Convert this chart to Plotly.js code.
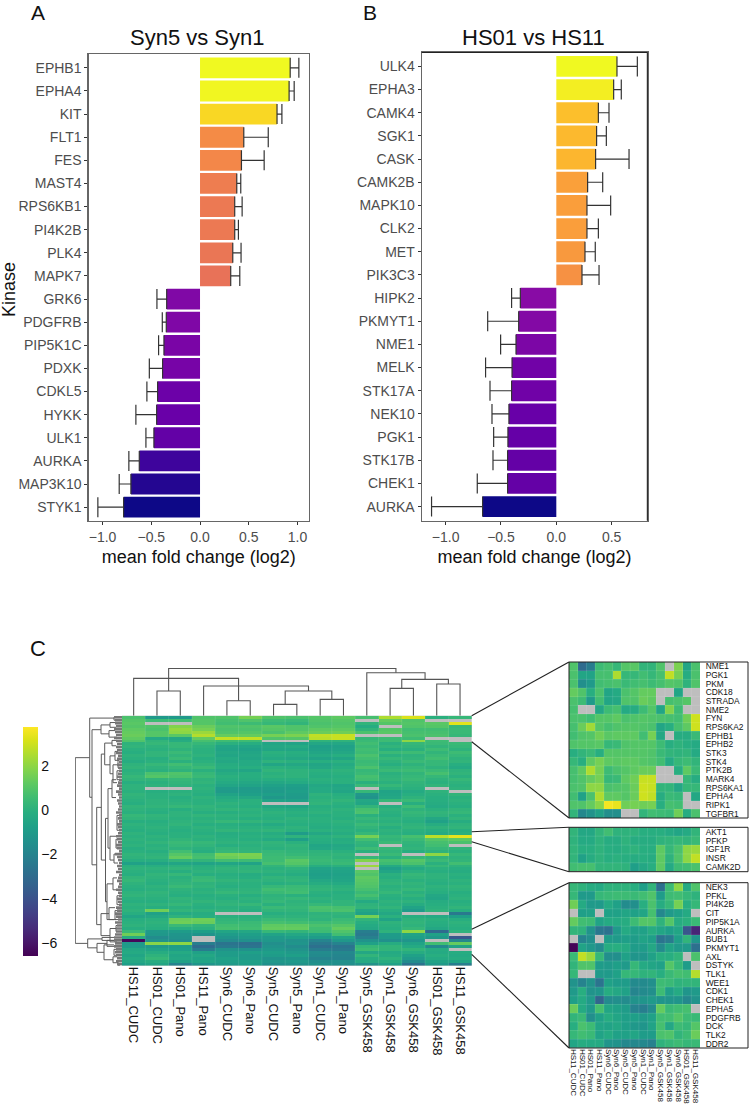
<!DOCTYPE html>
<html>
<head>
<meta charset="utf-8">
<script src="https://cdn.plot.ly/plotly-3.0.1.min.js"></script>
<style>
  html, body { margin: 0; padding: 0; background: #fff; }
  #chart { width: 752px; height: 1110px; }
</style>
</head>
<body>
<div id="chart"></div>
<script>
const NA = null;

// Panel A, Syn5 vs Syn1
const synKinases = ['EPHB1','EPHA4','KIT','FLT1','FES','MAST4','RPS6KB1','PI4K2B','PLK4','MAPK7',
  'GRK6','PDGFRB','PIP5K1C','PDXK','CDKL5','HYKK','ULK1','AURKA','MAP3K10','STYK1'];
const synMean = [0.925,0.914,0.79,0.449,0.425,0.377,0.356,0.356,0.336,0.315,
  -0.342,-0.346,-0.37,-0.384,-0.435,-0.445,-0.473,-0.623,-0.709,-0.784];
const synWhisker = [1.014,0.966,0.84,0.70,0.658,0.418,0.432,0.394,0.421,0.408,
  -0.442,-0.387,-0.425,-0.52,-0.545,-0.658,-0.555,-0.73,-0.829,-1.048];

// Panel B, HS01 vs HS11
const hsKinases = ['ULK4','EPHA3','CAMK4','SGK1','CASK','CAMK2B','MAPK10','CLK2','MET','PIK3C3',
  'HIPK2','PKMYT1','NME1','MELK','STK17A','NEK10','PGK1','STK17B','CHEK1','AURKA'];
const hsMean = [0.548,0.518,0.38,0.364,0.355,0.283,0.277,0.277,0.259,0.232,
  -0.325,-0.34,-0.364,-0.40,-0.404,-0.428,-0.437,-0.44,-0.44,-0.666];
const hsWhisker = [0.732,0.587,0.476,0.452,0.657,0.419,0.491,0.38,0.352,0.386,
  -0.404,-0.62,-0.503,-0.639,-0.599,-0.581,-0.566,-0.572,-0.714,-1.127];

// Panel C
const samples = ['HS11_CUDC','HS01_CUDC','HS01_Pano','HS11_Pano','Syn6_CUDC','Syn6_Pano','Syn5_CUDC','Syn5_Pano',
  'Syn1_CUDC','Syn1_Pano','Syn5_GSK458','Syn1_GSK458','Syn6_GSK458','HS01_GSK458','HS11_GSK458'];

const heatRows = [
  [.8,-1,-1,.9,.9,1.6,.9,.8,1,1.2,.7,2.5,3.2,0,.3],
  [1,.5,.6,1,.7,.9,.5,.4,.9,1,NA,1.3,.9,NA,NA],
  [1.1,NA,NA,1,.6,.5,.3,.2,.8,.9,.2,1,1,1.1,3.3],
  [1,.9,1.8,1.4,.9,.9,1.1,.9,.9,1,-.2,NA,.9,1,.3],
  [1.2,.8,2.1,1.6,.8,.8,1,.9,1.2,1.2,.2,1,.6,.6,.4],
  [1.3,1,2,2.2,.9,1,.8,1.2,1.4,1.5,.8,1.1,.7,.7,.4],
  [1.4,1,1.1,2.6,1.3,1.3,1.6,1.7,2.8,2.9,NA,NA,.8,.8,.3],
  [1.2,-.3,-.4,1.3,2.8,2.8,.9,1,2.7,2.9,.3,.5,.5,NA,NA],
  [.9,.2,-.2,.7,.5,.5,NA,NA,.1,.1,.4,.5,2,.5,NA],
  [.1,.3,.3,.3,0,-.1,-.5,-.6,-.4,-.4,.6,0,.3,.4,.4],
  [.2,.1,.3,.1,-.5,-.5,-.4,-.3,-.8,-.7,.4,.2,.2,.2,.3],
  [0,0,.1,0,-.6,-.7,-.5,-.5,-.7,-.6,.6,-.1,0,.5,.1],
  [-.1,.2,.4,0,-.4,-.5,0,-.1,-.5,-.4,.5,.4,.5,.2,.5],
  [.1,.2,.2,.1,-.5,-.4,-.1,-.2,-.3,-.1,.8,0,.1,.4,.3],
  [0,-.1,.4,-.1,-.3,-.5,-.3,-.4,-.6,-.5,.6,.3,.2,.6,.1],
  [-.2,0,0,0,-.4,-.3,.1,0,-.1,0,.4,.1,.4,.3,.2],
  [.1,.3,.6,.2,-.2,-.3,-.5,-.4,-.5,-.3,.5,-.1,.1,.3,-.1],
  [.2,.1,.3,.4,-.1,-.1,0,-.1,-.4,-.1,.8,.2,.3,.1,-.3],
  [0,0,.1,0,-.4,-.5,.2,.1,0,.1,.3,.4,.5,.4,.1],
  [.1,.8,.9,.3,-.2,-.1,0,.1,-.1,0,.4,0,.2,.7,.2],
  [.3,1,.8,.4,0,-.1,.1,.1,-.2,-.1,.7,.1,.3,.3,0],
  [.2,.2,.3,.1,-.1,-.2,-.1,-.1,0,0,.6,.2,.4,.1,.3],
  [-.1,0,.2,.2,-.3,-.4,-.4,-.3,-.1,0,0,0,.2,0,.1],
  [.1,.1,.1,0,-.5,-.6,-.7,-.8,-.4,-.5,.4,.3,.1,.2,0],
  [.1,NA,NA,.1,-.9,-1,-.9,-.9,-.3,-.4,NA,0,0,NA,.1],
  [0,-.1,0,0,-1,-.9,-1,-.8,-.3,-.5,.3,-.6,-.3,.1,NA],
  [.2,0,.1,-.1,-.6,-.8,-.8,-.9,.1,-.1,-1.1,-.5,-.1,0,.2],
  [.1,0,-.1,.1,-.3,-.4,-1.1,-1,0,0,-1.3,-.4,.1,-.1,0],
  [0,.1,0,0,-.1,0,-.6,-.7,.1,.2,-.4,.3,.4,-.1,.1],
  [-.1,.1,.1,0,.1,0,NA,NA,.2,0,-.5,NA,-.1,-.2,0],
  [.2,.2,.3,.2,0,-.1,-.4,-.5,-.1,-.1,.2,-.1,.5,-.3,-.1],
  [.1,0,-.1,.1,.2,.1,-.1,-.2,0,.1,.7,.1,.1,0,.2],
  [0,-.1,.1,-.1,-.1,0,.1,0,.1,0,.8,0,.3,.2,.3],
  [.3,.2,.1,.2,.1,.1,0,-.1,-.1,0,0,-.1,.2,.1,0],
  [.2,.1,0,0,0,-.1,-.1,.1,0,-.1,.3,.1,0,-.4,.2],
  [-.1,-.1,.1,.1,.3,.2,.1,0,0,.1,.1,0,-.1,-.7,-.2],
  [.1,0,.2,-.1,-.1,-.2,-.3,-.1,-.1,0,.4,.2,.1,-.2,.1],
  [0,.1,0,.1,0,0,0,.1,-.2,-.1,.2,-.1,.2,.1,.2],
  [-.1,0,-.1,0,.2,.1,.2,0,0,0,0,.1,0,-.1,-.1],
  [.1,-.1,0,-.1,-.2,-.1,-.2,-.9,-.4,-.2,.3,0,-.1,-.3,0],
  [0,.1,0,.1,-.1,0,0,.1,0,.1,1.6,.3,.7,2.7,3.4],
  [.1,0,.2,0,0,-.1,-.3,-.8,-.1,-.2,.6,.2,.4,1,1.2],
  [0,.2,.4,.3,.1,.1,.2,0,-.2,-.1,.2,.4,.2,.7,.8],
  [.1,0,.3,.2,-.1,0,.1,.2,-.5,-.4,.1,NA,.1,.6,NA],
  [-.1,.1,.1,0,.2,.1,0,.1,-.4,-.3,.5,.3,.2,.3,.2],
  [0,-.1,.6,-.1,.3,.2,.3,.2,.1,0,0,.2,-.1,.1,0],
  [.2,.1,1,.6,1.6,1.7,.4,.3,.2,.2,NA,.4,NA,2,.3],
  [.1,.2,1.3,.7,1.4,1.6,.5,.6,.3,.1,.3,0,.3,.2,.1],
  [-.1,-.1,.2,.2,.6,.5,.5,1.1,.4,.3,1.8,.7,1,.4,.2],
  [-.7,-.6,-.5,-.6,-.5,-.6,.7,1,.3,.4,NA,.5,.8,0,.6],
  [0,-.1,0,-.1,0,.1,.2,.6,-.1,0,2.2,-.3,.1,.3,.1],
  [.1,.1,.2,0,.2,.1,0,.1,-.6,-.5,NA,-.8,-.3,0,-.1],
  [0,0,-.1,.1,.1,.2,.1,0,-.7,-.6,1.1,-.5,0,-.1,-.2],
  [-.1,.2,.3,-.1,-.1,-.2,-.1,-.2,-.8,-.7,.9,0,.3,.1,0],
  [.2,.1,0,.3,0,-.1,.2,.1,-.7,-.6,1.2,-.1,.2,.1,-.1],
  [.3,0,.1,.4,.2,.1,.1,.2,-.4,-.5,1.1,.1,0,0,.1],
  [.1,-.1,.2,.1,0,0,-.1,0,-.2,-.3,1,.2,.2,-.1,0],
  [0,.1,.4,.2,-.1,0,.3,.4,.1,0,.9,0,.1,.1,.2],
  [-.1,0,.1,0,.1,.1,.6,.5,.2,.1,.7,.1,.3,0,.1],
  [.1,.2,0,.1,.3,.2,.4,.6,0,-.1,.4,.3,0,-.1,-.1],
  [.2,.1,-.1,-.1,0,-.1,.1,0,-.1,0,.7,0,.2,-.4,0],
  [0,0,.2,0,-.1,.1,.2,.3,.1,0,.3,-.1,-.1,-.5,.1],
  [-.1,-.1,.1,.2,.1,0,.3,.1,0,.2,-.3,.1,.1,-.2,-.1],
  [.1,.1,.3,0,.2,.3,0,.2,.3,.2,.1,0,-.2,-.1,0],
  [0,-.1,0,-.1,0,0,.4,.3,.8,.7,.2,.2,-.6,0,.2],
  [.1,1.5,.2,.1,.1,-.1,.2,.2,.7,.8,-.4,-.1,-.9,.1,-.1],
  [-.1,-.7,-.3,-.2,NA,NA,-.1,0,.1,.2,-.7,-.4,NA,NA,-2.4],
  [-.5,-.4,.1,-.1,0,0,.1,.1,.2,.1,1.6,0,-.1,-.3,-.8],
  [-.1,0,1.4,1.5,.2,.1,.4,.3,.1,.4,.2,-.6,.1,0,-.1],
  [0,.1,1.5,1.4,.3,.4,.7,.6,.5,.6,-.1,.1,.2,-.1,.1],
  [.1,0,.4,.2,.6,.5,1.2,1.2,.8,1,-.3,0,.1,-.2,0],
  [-.1,-.1,-.1,0,.7,.6,1.3,1.3,.6,1.3,-.4,-.1,.3,-.4,-.1],
  [.4,-1,-.9,-.8,-.5,-.4,.3,.2,.5,.9,-2.2,.1,2,-3,.1],
  [1.5,-1.1,-1.2,-1.3,-.9,-.8,-.6,-.4,-.5,.6,-2.4,-.9,-.6,-.7,NA],
  [-.2,-1.6,-1.3,NA,-1.2,-1,-1,-.8,-.9,-.6,-2.1,-1,-.8,-1.1,-3.8],
  [-6.4,-1.3,-1.5,NA,-1.6,-1.4,-1.1,-1.3,-1.9,-1.1,-1.3,-1.4,-1.2,NA,-1.8],
  [-1,1.9,2,-2.2,-2.6,-2.8,-1.5,-1.2,-2.4,-2,-.7,-.2,-.6,.6,1.3],
  [-.9,-1,-.9,-3,-2.4,-2.6,-1.3,-1.6,-2.8,-2.6,.3,.2,-.3,-1.7,-.6],
  [-.4,-.6,-.8,-2.3,-1.3,-1.4,-1.1,-1.3,-2.3,-2.4,.5,.2,.2,-.2,NA],
  [-.3,-.2,-.3,-.7,-.9,-.8,-.8,-1,-1.6,-1.8,-.4,-.3,-.2,-.3,-.2],
  [-.5,.1,-.5,-.4,-.9,-1,-.9,-.8,-1.7,-1.9,.2,-.2,-.7,-.1,-.3],
  [-.3,.3,-.4,-.6,-.7,-1,-1.3,-1.2,-2,-2,-.2,.1,-1,-.3,-.2],
  [-.4,-.2,-.7,-.5,-.8,-.7,-1.1,-1,-1.5,-1.4,-.3,-.2,-1.6,-.6,-.5],
  [-.8,-.5,-2,-1.2,-1,-.8,-1.4,-1.3,-1.3,-1.5,-1.3,-.7,-2.6,-1,-2.2],
];

const topLabels = ['NME1','PGK1','PKM','CDK18','STRADA','NME2','FYN','RPS6KA2','EPHB1','EPHB2','STK3','STK4',
  'PTK2B','MARK4','RPS6KA1','EPHA4','RIPK1','TGFBR1'];
const topRows = [
  [.9,-3,-2.3,.5,.7,.3,1,1.1,.2,.2,.9,NA,1.7,-.5,.8],
  [.8,-.5,-.6,.7,.7,2.5,.3,.3,.6,.3,.7,2.8,1.6,-.2,.8],
  [.8,-1.5,-1,.6,.7,.8,.4,.6,.7,.5,.7,1,.9,.1,.9],
  [1.3,.9,-.1,.8,-.5,-.3,.8,1,1.3,1.3,NA,NA,-.5,NA,NA],
  [.8,.5,-1,.6,-.5,-.4,.9,.9,1.4,1.2,NA,.7,.8,1,NA],
  [.7,NA,NA,-.4,.5,.7,-.3,-.2,.5,1,-.5,1.8,.5,NA,NA],
  [.8,.8,.6,1,1,1.2,.8,.9,1,.9,.8,.7,.6,1.5,3],
  [.7,1.4,2.3,1,.7,.9,1,1,.9,.8,-.5,-.1,.7,1.2,3],
  [.6,.9,1,1.5,1.1,1.2,1.2,1.2,.6,1.6,-.4,NA,-.2,-.2,.4],
  [.9,1,1,1.1,.3,.4,.9,1,1,1,.5,-.1,.1,-.1,-.3],
  [-.1,.2,.4,-.1,1,1,1,1,1,.9,.4,.2,.1,.2,-.3],
  [.3,-.1,1.2,1.6,1.2,1.1,1.2,1.2,1,.9,.6,-.3,.3,.5,.2],
  [.7,1.2,2.5,1.6,.5,.8,1,1.2,1.4,1.4,NA,NA,-.1,1.2,.4],
  [.7,.9,1.3,1.6,.3,.4,1.2,1.5,2.9,2.9,NA,NA,NA,.3,-.2],
  [.8,.9,2,2,.8,.9,1,1.4,3,2.9,.2,.2,-.4,.3,.3],
  [.6,-.7,.8,2.5,1.2,1.2,1,1.4,3,2.8,-.2,.4,.3,NA,-.4],
  [.9,.9,1.3,1.9,3.6,3.4,1.5,1.6,1.5,1.6,-.1,.7,.6,NA,NA],
  [.2,-1.8,-1.3,-.7,-1.5,-1.5,NA,NA,.2,.6,.5,.4,1.5,-.2,.8],
];

const midLabels = ['AKT1','PFKP','IGF1R','INSR','CAMK2D'];
const midRows = [
  [.2,-.4,-.4,.2,.6,.1,.1,.1,-.1,-.1,-.1,-.3,-.5,-.3,.2],
  [.1,-.3,-.3,.1,-.2,-.2,.1,-.2,-.2,-.2,.1,.2,.3,.2,.4],
  [.2,-.1,-.1,.1,-.1,-.2,0,.1,-.1,-.1,1.2,.3,.8,2,2.2],
  [.2,-.7,-.2,.1,-.1,0,-.1,-.2,-.1,-.2,1.2,.1,.9,2,2.8],
  [.6,.7,.7,.2,.2,.2,.1,-.8,-.4,-.1,1.2,-.3,.5,.6,.8],
];

const lowLabels = ['NEK3','PFKL','PI4K2B','CIT','PIP5K1A','AURKA','BUB1','PKMYT1','AXL','DSTYK','TLK1','WEE1',
  'CDK1','CHEK1','EPHA5','PDGFRB','DCK','TLK2','DDR2'];
const lowRows = [
  [.3,.1,-.2,-.3,.1,.1,.1,-.1,-.8,.2,-2.8,.5,2,-.3,.9],
  [.3,-1,-1,.3,.4,.5,.5,.4,.6,.9,-.9,.5,.6,.3,.1],
  [1.5,-.3,-1,-1,-.3,-.7,-1.6,-1.5,-.1,.8,-.2,.3,1.6,-.1,.3],
  [NA,-.8,-.7,NA,-.7,-.7,-.5,-.7,-.5,.7,-1.8,-1,-.7,-.3,NA],
  [1.3,.6,.5,-.6,-.3,-.3,-.2,.5,1,1,.1,1,-.2,0,.4],
  [.2,.1,-1.3,-2.5,-2.7,-1,-.3,-.7,-.7,-.2,-.5,-.8,-.5,-3.8,-5.5],
  [NA,-2,-1.5,NA,-.9,-1,-.8,-.9,-.6,-.8,-2.6,-2.3,-.8,.2,-1.2],
  [-6.5,-.6,-1.1,-1.6,-.2,-.1,-.3,-.9,-.9,-.4,-1.6,-.6,-1,-1,-2.8],
  [.4,2.8,2.2,.3,-1.5,-1.5,-.7,-1.2,-1.2,-.7,-.1,-.1,.2,NA,.8],
  [.2,.9,.9,-.9,-1,-.8,-1,.3,-.3,-.5,-.7,1,.3,-.9,NA],
  [.3,NA,NA,-1,-1,-.7,.3,.3,.1,.2,-.1,.4,.7,.6,2.6],
  [-1.3,-2,-1.3,-2.6,-.7,-.9,-.9,-1.7,-1.7,-1.5,.5,.4,.1,.2,.2],
  [-1,-.1,-1.3,-1.2,-.2,-.4,-.7,-1.9,-1.7,-1.5,.5,-.8,-.3,-1.2,-1],
  [-.8,-.3,-1,-3.2,-1.6,-1.5,-1.6,-1.3,-1.2,-1,-1.2,-1.2,-1.2,-1.8,-1.3],
  [1.4,-.3,-1,.7,-.5,-.7,-.9,-2,-2.2,-1.6,1.3,.4,.6,.7,NA],
  [.2,.4,-1.5,-.7,-.2,-.5,-.8,-.8,-1,-.7,.6,.6,1,.5,.4],
  [-.1,.8,.5,-.5,-.6,-.4,-.8,-1.1,-1.2,-.6,.7,-.4,.5,.3,1],
  [.3,.6,.4,-.6,-.3,-.7,-.7,-.5,-.9,-.9,.8,.9,.2,.5,1.4],
  [-.5,-.2,-.3,-.3,-1.2,-1.3,-1.8,-1.8,-1.8,-2.1,.1,.3,.5,.3,.4],
];

// column dendrogram: bracket ends (column position), merge height, height of each child
const colLinkLeft   = [1,4,6,8,6.5,3,0,11,13,11.5,10,1.5];
const colLinkRight  = [2,5,7,9,8.5,7.5,4.5,12,14,13.5,12.5,11.25];
const colLinkHeight = [24.7,15,11.3,16.3,24.7,29.7,37.3,27.3,31.7,36.3,43,47.3];
const colChildLeft  = [0,0,0,0,11.3,0,0,0,0,27.3,0,24.7];
const colChildRight = [0,0,0,0,16.3,24.7,15,0,0,31.7,36.3,43];

// row dendrogram: bracket ends (row position), merge depth, depth of each child
const rowLinkTop = [13.6,0.3,4.2,2.6,1.8,4.5,0,30.3,12.4,8.7,7.8,13,11.5,16,34,24,21,40,56,54,66,64,71,74.5,76,75,76.5,74,78,80.5,82,33,14,18,41,46,60,65,70];
const rowLinkBot = [76,26.9,49.6,5.6,3.4,6.7,1,69.7,48,16,9.6,19,14.5,22,62,44,27,48,68,58,73.4,68,75.5,77.5,79,77,81.5,75,80,82.5,83.5,38,17,21,44,49,63,68,72];
const rowLinkDepth = [46.7,32.3,30,21,12,13,8,25.3,20.7,17.3,10,12,7,9,16.5,14,10,12,15,9,21,13,12,34.3,25,15,18,20,8,9,4,5,4,5,6,8,5,7,6];
const rowChildTop = [32.3,8,21,12,6,7,5,20.7,17.3,10,5,7,4,4,14,10,6,6,9,5,13,7,6,20,15,6,8,8,4,5,2,3,2,3,3,4,3,4,3];
const rowChildBot = [34.3,30,25.3,13,6,5,5,21,16.5,12,6,9,3,5,15,12,6,8,8,4,12,6,5,25,18,6,9,8,4,4,2,2,2,3,3,4,3,3,3];
const rowLeafDepth = [8,7,7,6,8,7,6,8,6,5,6,5,6,4,5,3,5,4,3,4,5,3,4,5,3,6,4,3,5,4,3,4,6,3,4,3,5,4,3,4,
  6,5,4,6,5,3,7,5,4,3,5,4,6,3,4,5,3,4,6,4,3,5,4,3,6,5,7,6,4,7,5,6,6,7,8,8,7,8,6,7,6,5,6,5];

const W = 752, H = 1110;
const FONT = '"Liberation Sans", Arial, sans-serif';
const CELL_LINE = 'rgba(255,255,255,0.16)';
const GRAY_CELL = '#bebebe';

const PLASMA = [[0,'#0d0887'],[.1,'#41049d'],[.2,'#6a00a8'],[.3,'#8f0da4'],[.4,'#b12a90'],[.5,'#cc4778'],
  [.6,'#e16462'],[.7,'#f2844b'],[.8,'#fca636'],[.9,'#fcce25'],[1,'#f0f921']];

const HEAT_MIN = -6.59, HEAT_MAX = 3.76;

function px(x) { return x / W; }
function py(y) { return 1 - y / H; }
function domX(a, b) { return [px(a), px(b)]; }
function domY(top, bottom) { return [py(bottom), py(top)]; }
function range(n) { return Array.from({ length: n }, (_, i) => i); }

function barTrace(names, means, whiskers, xa, ya) {
    return {
        type: 'bar', orientation: 'h', xaxis: xa, yaxis: ya,
        x: means, y: names, width: 0.9,
        marker: { color: means, colorscale: PLASMA, line: { width: 0 } },
        error_x: {
            type: 'data', symmetric: false,
            array: means.map((m, i) => Math.max(whiskers[i] - m, 0)),
            arrayminus: means.map((m, i) => Math.max(m - whiskers[i], 0)),
            color: '#333', thickness: 1.2, width: 10,
        },
        hoverinfo: 'skip',
    };
}

function barAxes(names, xRange, xDom, yDom, yAnchor, xAnchor, standoff) {
    const x = {
        domain: xDom, anchor: yAnchor, range: xRange, dtick: 0.5, tickformat: '.1f',
        ticks: 'outside', ticklen: 3, tickcolor: '#333', showgrid: false, zeroline: false,
        showline: true, linecolor: '#666', linewidth: 1.2, mirror: true,
        tickfont: { size: 14, color: '#4d4d4d', family: FONT },
        title: { text: 'mean fold change (log2)', font: { size: 18, color: '#111', family: FONT }, standoff },
    };
    const y = {
        domain: yDom, anchor: xAnchor, type: 'category', categoryorder: 'array', categoryarray: names,
        range: [19.6, -0.6], ticks: 'outside', ticklen: 3, tickcolor: '#333', showgrid: false, zeroline: false,
        showline: true, linecolor: '#666', linewidth: 1.2, mirror: true,
        tickfont: { size: 14, color: '#4d4d4d', family: FONT },
    };
    return [x, y];
}

function heatTrace(rows, xa, ya, extra) {
    return Object.assign({
        type: 'heatmap', xaxis: xa, yaxis: ya, z: rows,
        x: range(15), y: range(rows.length),
        colorscale: 'Viridis', zmin: HEAT_MIN, zmax: HEAT_MAX,
        showscale: false, hoverongaps: false, hoverinfo: 'skip', xgap: 0, ygap: 0,
    }, extra || {});
}

function bracketPath(a, b, h, childA, childB) {
    return [[a, childA], [a, h], [b, h], [b, childB], [null, null]];
}

function colDendroTrace() {
    const pts = [];
    colLinkLeft.forEach((l, i) => {
        pts.push(...bracketPath(l, colLinkRight[i], colLinkHeight[i], colChildLeft[i], colChildRight[i]));
    });
    return {
        type: 'scatter', mode: 'lines', xaxis: 'x4', yaxis: 'y4', cliponaxis: false,
        x: pts.map(p => p[0]), y: pts.map(p => p[1]),
        line: { color: '#555', width: 1.1 }, hoverinfo: 'skip',
    };
}

function rowDendroTraces() {
    const x = [], y = [];
    rowLinkTop.forEach((t, i) => {
        x.push(rowChildTop[i], rowLinkDepth[i], rowLinkDepth[i], rowChildBot[i], null);
        y.push(t, t, rowLinkBot[i], rowLinkBot[i], null);
    });
    const leafX = [], leafY = [];
    rowLeafDepth.forEach((d, r) => {
        leafX.push(d, 0, null);
        leafY.push(r, r, null);
    });
    return [
        { type: 'scatter', mode: 'lines', xaxis: 'x5', yaxis: 'y5', x, y,
          line: { color: '#5a5a5a', width: 1 }, hoverinfo: 'skip' },
        { type: 'scatter', mode: 'lines', xaxis: 'x5', yaxis: 'y5', x: leafX, y: leafY,
          line: { color: '#777', width: 2.6 }, hoverinfo: 'skip' },
    ];
}

function plainAxis(dom, anchor, rng) {
    return {
        domain: dom, anchor, range: rng, showgrid: false, zeroline: false,
        showline: false, showticklabels: false, ticks: '',
    };
}

function insetAxes(labels, top, bottom, xa, ya, showCols) {
    const xAxis = {
        domain: domX(569, 700), anchor: ya, range: [-0.5, 14.5], showgrid: false, zeroline: false,
        showline: false, ticks: '', showticklabels: !!showCols,
    };
    if (showCols) {
        xAxis.tickmode = 'array';
        xAxis.tickvals = range(15);
        xAxis.ticktext = samples;
        xAxis.tickangle = 90;
        xAxis.tickfont = { size: 8, color: '#111', family: FONT };
    }
    const yAxis = {
        domain: domY(top, bottom), anchor: xa, side: 'right',
        range: [labels.length - 0.5, -0.5], tickmode: 'array', tickvals: range(labels.length), ticktext: labels,
        showgrid: false, zeroline: false, showline: false,
        ticks: 'outside', ticklen: 3, tickcolor: 'rgba(0,0,0,0)',
        tickfont: { size: 8.4, color: '#111', family: FONT },
    };
    return [xAxis, yAxis];
}

function cellLines(xa, ya, nRows) {
    const lines = [];
    for (let c = 1; c < 15; c++) {
        lines.push({ type: 'line', xref: xa, yref: `${ya} domain`, x0: c - 0.5, x1: c - 0.5, y0: 0, y1: 1,
                     line: { color: CELL_LINE, width: 0.7 } });
    }
    for (let r = 1; r < nRows; r++) {
        lines.push({ type: 'line', xref: `${xa} domain`, yref: ya, x0: 0, x1: 1, y0: r - 0.5, y1: r - 0.5,
                     line: { color: CELL_LINE, width: 0.7 } });
    }
    return lines;
}

function paperLine(x0, y0, x1, y1, color, width) {
    return { type: 'line', xref: 'paper', yref: 'paper', x0: px(x0), y0: py(y0), x1: px(x1), y1: py(y1),
             line: { color, width } };
}

function paperBox(x0, y0, x1, y1) {
    return { type: 'rect', xref: 'paper', yref: 'paper', x0: px(x0), y0: py(y0), x1: px(x1), y1: py(y1),
             line: { color: '#222', width: 1 }, fillcolor: 'rgba(0,0,0,0)' };
}

// missing cells show this through the transparent gaps of the heatmap
function grayBehind(x0, y0, x1, y1) {
    return { type: 'rect', layer: 'below', xref: 'paper', yref: 'paper', x0: px(x0), y0: py(y0), x1: px(x1), y1: py(y1),
             line: { width: 0 }, fillcolor: GRAY_CELL };
}

function label(text, x, y, size, extra) {
    return Object.assign({
        text, xref: 'paper', yref: 'paper', x: px(x), y: py(y), showarrow: false,
        xanchor: 'center', yanchor: 'middle', font: { size, color: '#111', family: FONT },
    }, extra || {});
}

function render() {
    const [ax1, ay1] = barAxes(synKinases, [-1.144, 1.118], domX(88.5, 309), domY(54, 521), 'y', 'x', 6);
    const [ax2, ay2] = barAxes(hsKinases, [-1.216, 0.822], domX(421.7, 647.3), domY(52.5, 520.5), 'y2', 'x2', 6);

    const [ax6, ay6] = insetAxes(topLabels, 662, 818, 'x6', 'y6', false);
    const [ax7, ay7] = insetAxes(midLabels, 827.3, 871.7, 'x7', 'y7', false);
    const [ax8, ay8] = insetAxes(lowLabels, 882.7, 1048, 'x8', 'y8', true);

    const traces = [
        barTrace(synKinases, synMean, synWhisker, 'x', 'y'),
        barTrace(hsKinases, hsMean, hsWhisker, 'x2', 'y2'),
        heatTrace(heatRows, 'x3', 'y3', {
            showscale: true,
            colorbar: {
                x: px(22.7), xanchor: 'left', xpad: 0,
                y: py(727), yanchor: 'top', ypad: 0,
                thickness: 15.3, thicknessmode: 'pixels', len: 228.7, lenmode: 'pixels',
                outlinewidth: 0, ticks: '', dtick: 2, tick0: 0,
                tickfont: { size: 14, color: '#111', family: FONT },
            },
        }),
        colDendroTrace(),
        ...rowDendroTraces(),
        heatTrace(topRows, 'x6', 'y6'),
        heatTrace(midRows, 'x7', 'y7'),
        heatTrace(lowRows, 'x8', 'y8'),
    ];

    const layout = {
        width: W, height: H, showlegend: false,
        margin: { l: 0, r: 0, t: 0, b: 0 },
        paper_bgcolor: '#fff', plot_bgcolor: '#fff',
        font: { family: FONT },
        xaxis: ax1, yaxis: ay1,
        xaxis2: ax2, yaxis2: ay2,
        xaxis3: {
            domain: domX(122, 471.7), anchor: 'y3', range: [-0.5, 14.5], showgrid: false, zeroline: false,
            tickmode: 'array', tickvals: range(15), ticktext: samples, tickangle: 90, ticks: '',
            tickfont: { size: 13, color: '#111', family: FONT },
        },
        yaxis3: {
            domain: domY(715.7, 965.7), anchor: 'x3', range: [83.5, -0.5],
            showgrid: false, zeroline: false, showticklabels: false, ticks: '',
        },
        xaxis4: plainAxis(domX(122, 471.7), 'y4', [-0.5, 14.5]),
        yaxis4: plainAxis(domY(668, 715.7), 'x4', [0, 47.7]),
        xaxis5: plainAxis(domX(75, 122), 'y5', [47, 0]),
        yaxis5: plainAxis(domY(715.7, 965.7), 'x5', [83.5, -0.5]),
        xaxis6: ax6, yaxis6: ay6,
        xaxis7: ax7, yaxis7: ay7,
        xaxis8: ax8, yaxis8: ay8,
        shapes: [
            grayBehind(122, 715.7, 471.7, 965.7),
            grayBehind(569, 662, 700, 818),
            grayBehind(569, 827.3, 700, 871.7),
            grayBehind(569, 882.7, 700, 1048),
            ...cellLines('x6', 'y6', topLabels.length),
            ...cellLines('x7', 'y7', midLabels.length),
            ...cellLines('x8', 'y8', lowLabels.length),
            ...range(14).map(c => ({ type: 'line', xref: 'x3', yref: 'y3 domain', x0: c + 0.5, x1: c + 0.5, y0: 0, y1: 1,
                                     line: { color: CELL_LINE, width: 0.7 } })),
            paperBox(569, 662, 748, 818),
            paperBox(569, 827.3, 748, 871.7),
            paperBox(569, 882.7, 748, 1048),
            paperLine(471.7, 715.7, 569, 662, '#222', 1.1),
            paperLine(471.7, 741.7, 569, 818, '#222', 1.1),
            paperLine(471.7, 831.7, 569, 827.3, '#222', 1.1),
            paperLine(471.7, 841.7, 569, 871.7, '#222', 1.1),
            paperLine(471.7, 929.3, 569, 882.7, '#222', 1.1),
            paperLine(471.7, 954.3, 569, 1048, '#222', 1.1),
            // panel B frame is darker on top and right
            paperLine(421.7, 52.5, 647.3, 52.5, '#222', 1),
            paperLine(647.3, 52.5, 647.3, 520.5, '#222', 1),
        ],
        annotations: [
            label('A', 38, 12.5, 21),
            label('B', 370, 12.5, 21),
            label('C', 38, 648, 22),
            label('Syn5 vs Syn1', 197.5, 37.5, 22),
            label('HS01 vs HS11', 533, 37.5, 22),
            label('Kinase', 9, 290, 18, { textangle: -90 }),
        ],
    };

    Plotly.newPlot('chart', traces, layout, { displayModeBar: false, staticPlot: true });
}

render();
</script>
</body>
</html>
